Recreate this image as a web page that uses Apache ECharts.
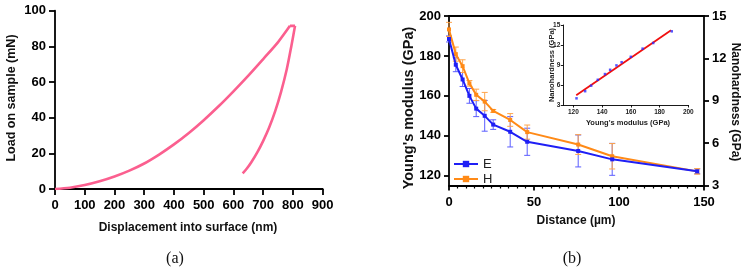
<!DOCTYPE html>
<html>
<head>
<meta charset="utf-8">
<script src="https://cdn.jsdelivr.net/npm/echarts@6/dist/echarts.min.js"></script>
<style>
  html, body { margin: 0; padding: 0; background: #fff; }
  #main { width: 752px; height: 273px; }
</style>
</head>
<body>
<div id="main"></div>
<script>
  // (a) load-displacement curve: loading, hold, unloading
  const loadDepth = [0, 50, 100, 150, 200, 250, 300, 350, 400, 450, 500, 550, 600, 650, 700, 750, 790];
  const loadForce = [0, 0.7, 2.2, 4.3, 7, 10.3, 14.3, 19.3, 25, 31.4, 38.6, 46.4, 54.8, 63.6, 72.9, 82.4, 91.5];
  const holdDepth = [790, 807];
  const holdForce = [91.5, 91.5];
  const unloadDepth = [807, 795, 779, 760, 740, 720, 700, 680, 660, 645, 631];
  const unloadForce = [91.5, 80.5, 67, 54.5, 43.5, 34.5, 27, 20.5, 15, 11.5, 8.8];

  // (b) modulus / hardness vs distance
  const distance = [0, 4, 8, 12, 16, 21, 26, 36, 46, 76, 96, 146];
  const modulusE = [188.5, 175.6, 168.2, 160, 153.6, 150, 145.6, 142, 137, 132.4, 128.2, 122.2];
  const modulusErr = [1.5, 3.5, 3.5, 3.7, 4, 7.7, 2.4, 7.6, 6.8, 8, 8, 1.2];
  const hardH = [14.05, 12.3, 11.45, 10.23, 9.42, 8.94, 8.28, 7.64, 6.78, 5.9, 5.07, 4.0];
  const hardErr = [0.5, 0.5, 0.45, 0.2, 0.4, 0.65, 0.1, 0.45, 0.5, 0.7, 0.9, 0.2];

  // inset: linear fit H vs E
  const fitE = [122, 188];
  const fitH = [4.45, 14.2];

  const ticksA_x = [0, 100, 200, 300, 400, 500, 600, 700, 800, 900];
  const ticksB_left = [120, 140, 160, 180, 200];
  const ticksInset_x = [120, 140, 160, 180, 200];

  const FONT = 'Liberation Sans, Arial, sans-serif';
  const BLUE = '#1f1ff5', BLUE_ERR = '#5b5dff';
  const ORANGE = '#ff8a17', ORANGE_ERR = '#ffa54a';
  const PINK = '#fb5f8f';

  const pairs = (xs, ys) => xs.map((x, i) => [x, ys[i]]);

  function axisBase(lw) {
    return {
      axisLine: { show: true, onZero: false, lineStyle: { color: '#000', width: lw } },
      axisTick: { show: true, length: 5, lineStyle: { color: '#000', width: lw } },
      splitLine: { show: false }
    };
  }
  function lbl(size, margin) {
    return { color: '#000', fontFamily: FONT, fontWeight: 'bold', fontSize: size, margin: margin };
  }

  function errorBar(color) {
    return function (params, api) {
      const x = api.value(0);
      const top = api.coord([x, api.value(2)]);
      const bot = api.coord([x, api.value(1)]);
      const w = 3;
      const style = { stroke: color, lineWidth: 1 };
      return {
        type: 'group',
        children: [
          { type: 'line', shape: { x1: top[0], y1: top[1], x2: bot[0], y2: bot[1] }, style: style },
          { type: 'line', shape: { x1: top[0] - w, y1: top[1], x2: top[0] + w, y2: top[1] }, style: style },
          { type: 'line', shape: { x1: bot[0] - w, y1: bot[1], x2: bot[0] + w, y2: bot[1] }, style: style }
        ]
      };
    };
  }

  const pinkLine = { showSymbol: false, lineStyle: { color: PINK, width: 2.6 }, itemStyle: { color: PINK } };

  const chart = echarts.init(document.getElementById('main'), null, { renderer: 'canvas' });
  const option = {
    animation: false,
    backgroundColor: '#fff',
    grid: [
      { left: 55, top: 10.7, width: 267.7, height: 178.3, outerBoundsMode: 'none' },
      { left: 449, top: 16, width: 255, height: 169.5, outerBoundsMode: 'none' },
      { left: 563.3, top: 25, width: 125, height: 80, outerBoundsMode: 'none' }
    ],
    xAxis: [
      Object.assign(axisBase(1.8), {
        gridIndex: 0, type: 'value', min: 0, max: 900, interval: 100,
        axisLabel: Object.assign(lbl(13, 10), { customValues: ticksA_x }),
        axisTick: { show: true, length: 6, lineStyle: { color: '#000', width: 1.8 }, customValues: ticksA_x }
      }),
      Object.assign(axisBase(1.8), {
        gridIndex: 1, type: 'value', min: 0, max: 150, interval: 50,
        axisLabel: lbl(13, 10),
        minorTick: { show: true, splitNumber: 10, length: 3, lineStyle: { color: '#000', width: 1.2 } }
      }),
      {
        gridIndex: 1, type: 'value', position: 'top', min: 0, max: 150,
        axisLine: { show: true, onZero: false, lineStyle: { color: '#000', width: 1.8 } },
        axisTick: { show: false }, axisLabel: { show: false }, splitLine: { show: false }
      },
      Object.assign(axisBase(0.9), {
        gridIndex: 2, type: 'value', min: 113, max: 200,
        axisTick: { show: true, length: 2.5, lineStyle: { color: '#000', width: 0.9 }, customValues: ticksInset_x },
        axisLabel: Object.assign(lbl(6.5, 4), { customValues: ticksInset_x, color: '#222' })
      })
    ],
    yAxis: [
      Object.assign(axisBase(1.8), {
        gridIndex: 0, type: 'value', min: 0, max: 100, interval: 20,
        axisTick: { show: true, length: 6, lineStyle: { color: '#000', width: 1.8 } },
        axisLabel: lbl(13, 9)
      }),
      Object.assign(axisBase(1.8), {
        gridIndex: 1, type: 'value', min: 115.1, max: 200, position: 'left',
        axisTick: { show: true, length: 5, lineStyle: { color: '#000', width: 1.8 }, customValues: ticksB_left },
        axisLabel: Object.assign(lbl(13, 8), { customValues: ticksB_left })
      }),
      Object.assign(axisBase(1.8), {
        gridIndex: 1, type: 'value', min: 3, max: 15, interval: 3, position: 'right',
        axisLabel: lbl(13, 8)
      }),
      Object.assign(axisBase(0.9), {
        gridIndex: 2, type: 'value', min: 3, max: 15, interval: 3,
        axisTick: { show: true, length: 2.5, lineStyle: { color: '#000', width: 0.9 } },
        axisLabel: Object.assign(lbl(6.5, 3), { color: '#222' })
      })
    ],
    legend: {
      orient: 'vertical', left: 453, top: 157.5, itemGap: 2, padding: 0,
      itemWidth: 24, itemHeight: 8,
      textStyle: { fontFamily: FONT, fontSize: 13, color: '#222', lineHeight: 13 },
      data: ['E', 'H']
    },
    series: [
      Object.assign({ type: 'line', xAxisIndex: 0, yAxisIndex: 0, data: pairs(loadDepth, loadForce), smooth: 0.3 }, pinkLine),
      Object.assign({ type: 'line', xAxisIndex: 0, yAxisIndex: 0, data: pairs(holdDepth, holdForce) }, pinkLine),
      Object.assign({ type: 'line', xAxisIndex: 0, yAxisIndex: 0, data: pairs(unloadDepth, unloadForce), smooth: 0.3 }, pinkLine),
      {
        type: 'custom', xAxisIndex: 1, yAxisIndex: 1, renderItem: errorBar(BLUE_ERR), z: 3,
        encode: { x: 0, y: [1, 2] },
        data: distance.map((d, i) => [d, modulusE[i] - modulusErr[i], modulusE[i] + modulusErr[i]])
      },
      {
        type: 'custom', xAxisIndex: 1, yAxisIndex: 2, renderItem: errorBar(ORANGE_ERR), z: 3,
        encode: { x: 0, y: [1, 2] },
        data: distance.map((d, i) => [d, hardH[i] - hardErr[i], hardH[i] + hardErr[i]])
      },
      {
        name: 'H', type: 'line', xAxisIndex: 1, yAxisIndex: 2, z: 4,
        data: pairs(distance, hardH),
        symbol: 'rect', symbolSize: 4,
        lineStyle: { color: ORANGE, width: 2 }, itemStyle: { color: ORANGE }
      },
      {
        name: 'E', type: 'line', xAxisIndex: 1, yAxisIndex: 1, z: 5,
        data: pairs(distance, modulusE),
        symbol: 'rect', symbolSize: 4,
        lineStyle: { color: BLUE, width: 2 }, itemStyle: { color: BLUE }
      },
      {
        type: 'line', xAxisIndex: 3, yAxisIndex: 3, z: 4,
        data: pairs(fitE, fitH),
        showSymbol: false, lineStyle: { color: '#f01010', width: 1.8 }
      },
      {
        type: 'scatter', xAxisIndex: 3, yAxisIndex: 3, z: 5,
        data: pairs(modulusE, hardH),
        symbol: 'rect', symbolSize: 2.5, itemStyle: { color: '#2a2aff' }
      }
    ],
    graphic: [
      { type: 'text', x: 12, y: 98, rotation: Math.PI / 2,
        style: { text: 'Load on sample (mN)', font: 'bold 12.5px ' + FONT, fill: '#111', align: 'center', verticalAlign: 'middle' } },
      { type: 'text', x: 188, y: 228,
        style: { text: 'Displacement into surface (nm)', font: 'bold 12px ' + FONT, fill: '#111', align: 'center', verticalAlign: 'middle' } },
      { type: 'text', x: 175, y: 259,
        style: { text: '(a)', font: '16px Liberation Serif, serif', fill: '#111', align: 'center', verticalAlign: 'middle' } },
      { type: 'text', x: 409, y: 108, rotation: Math.PI / 2,
        style: { text: "Young's modulus (GPa)", font: 'bold 14.5px ' + FONT, fill: '#111', align: 'center', verticalAlign: 'middle' } },
      { type: 'text', x: 735, y: 102, rotation: -Math.PI / 2,
        style: { text: 'Nanohardness (GPa)', font: 'bold 12px ' + FONT, fill: '#111', align: 'center', verticalAlign: 'middle' } },
      { type: 'text', x: 576, y: 221,
        style: { text: 'Distance (µm)', font: 'bold 12px ' + FONT, fill: '#111', align: 'center', verticalAlign: 'middle' } },
      { type: 'text', x: 572, y: 259,
        style: { text: '(b)', font: '16px Liberation Serif, serif', fill: '#111', align: 'center', verticalAlign: 'middle' } },
      { type: 'text', x: 628, y: 123,
        style: { text: "Young's modulus (GPa)", font: 'bold 7.5px ' + FONT, fill: '#222', align: 'center', verticalAlign: 'middle' } },
      { type: 'text', x: 552, y: 65, rotation: Math.PI / 2,
        style: { text: 'Nanohardness (GPa)', font: 'bold 7.5px ' + FONT, fill: '#222', align: 'center', verticalAlign: 'middle' } }
    ]
  };
  chart.setOption(option);
</script>
</body>
</html>
